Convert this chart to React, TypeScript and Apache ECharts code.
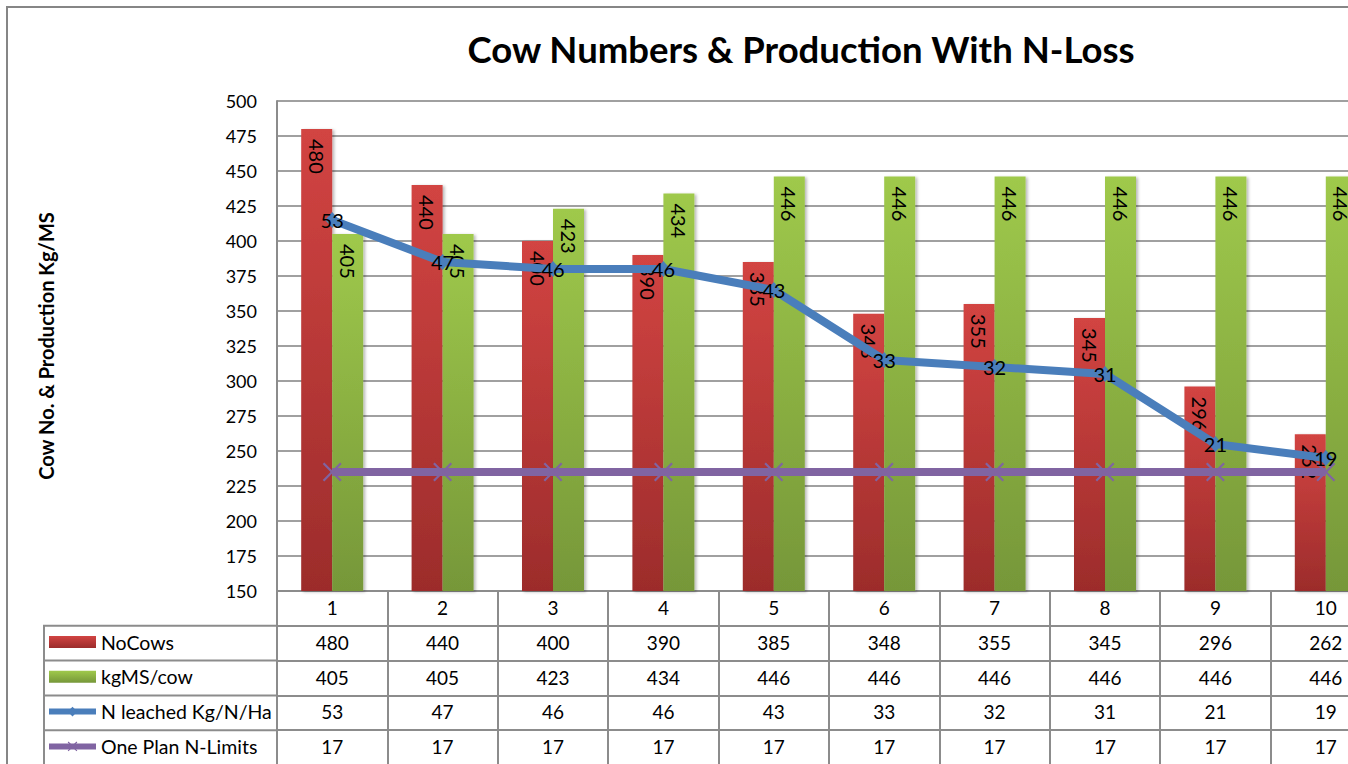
import React, { useEffect, useRef } from "react";
import * as echarts from "echarts";

// Category labels and the four series plotted / tabulated under the plot
const categories = ["1", "2", "3", "4", "5", "6", "7", "8", "9", "10"];
const noCows = [480, 440, 400, 390, 385, 348, 355, 345, 296, 262];
const kgMSPerCow = [405, 405, 423, 434, 446, 446, 446, 446, 446, 446];
const nLeached = [53, 47, 46, 46, 43, 33, 32, 31, 21, 19];
const onePlanLimit = [17, 17, 17, 17, 17, 17, 17, 17, 17, 17];

const seriesNames = ["NoCows", "kgMS/cow", "N leached Kg/N/Ha", "One Plan N-Limits"];
const tableRows = [noCows, kgMSPerCow, nLeached, onePlanLimit];

const titleText = "Cow Numbers & Production With N-Loss";
const yAxisTitle = "Cow No. & Production Kg/MS";

// Primary axis range (cows / kgMS), secondary axis range (kg N/ha)
const primaryMin = 150;
const primaryMax = 500;
const primaryStep = 25;
const secondaryMin = 0;
const secondaryMax = 70;

// Layout
const FONT = "Lato, 'Noto Sans', sans-serif";
const GRID_LEFT = 277;
const GRID_TOP = 101;
const PLOT_H = 490;
const BAND = 110.4;
const ROW_H = 34.8;
const TABLE_LEFT = 44;
const TABLE_FONT = 19;
const LEGEND_FONT = 19.5;
const LINE_GREY = "#8c8c8c";
const GRID_GREY = "#a0a0a0";

const redFill = new echarts.graphic.LinearGradient(0, 0, 0, 1, [
  { offset: 0, color: "#d24442" },
  { offset: 1, color: "#9c2c2b" },
]);
const greenFill = new echarts.graphic.LinearGradient(0, 0, 0, 1, [
  { offset: 0, color: "#9fc94b" },
  { offset: 1, color: "#769739" },
]);
const BLUE = "#4a7ebb";
const PURPLE = "#8064a2";
const CROSS =
  "path://M0,0.85 L0.85,0 L5,4.15 L9.15,0 L10,0.85 L5.85,5 L10,9.15 L9.15,10 L5,5.85 L0.85,10 L0,9.15 L4.15,5 Z";

const barShadow = {
  shadowColor: "rgba(0,0,0,0.28)",
  shadowBlur: 3,
  shadowOffsetX: 2,
  shadowOffsetY: 1,
};

const barLabel = {
  show: true,
  position: "insideTop",
  rotate: -90,
  align: "left",
  verticalAlign: "middle",
  distance: 10,
  fontSize: 20,
  fontFamily: FONT,
  color: "#000",
};

// One category axis per data-table row, stacked under the plot
const tableAxes = tableRows.map((row, i) => ({
  type: "category",
  gridIndex: 0,
  position: "bottom",
  offset: ROW_H * (i + 1),
  data: categories,
  axisLine: { show: true, onZero: false, lineStyle: { color: LINE_GREY, width: 2 } },
  axisTick: { show: true, interval: 0, length: ROW_H, lineStyle: { color: LINE_GREY, width: 2 } },
  axisLabel: {
    interval: 0,
    margin: 7,
    fontSize: TABLE_FONT,
    fontFamily: FONT,
    color: "#000",
    formatter: (_v: string, idx: number) => String(row[idx]),
  },
  splitLine: { show: false },
}));

const option = {
  animation: false,
  backgroundColor: "#fff",
  title: {
    text: titleText,
    left: "center",
    top: 25,
    textStyle: { fontSize: 36.5, fontWeight: "bold", fontFamily: FONT, color: "#000" },
  },
  legend: {
    orient: "vertical",
    left: TABLE_LEFT + 2,
    top: 632,
    padding: 0,
    itemWidth: 47,
    itemHeight: 12,
    itemGap: 14.8,
    selectedMode: false,
    lineStyle: { width: 6 },
    textStyle: { fontSize: LEGEND_FONT, fontFamily: FONT, color: "#000" },
    data: [
      { name: seriesNames[0], icon: "rect" },
      { name: seriesNames[1], icon: "rect" },
      seriesNames[2],
      seriesNames[3],
    ],
  },
  grid: { left: GRID_LEFT, top: GRID_TOP, width: BAND * categories.length, height: PLOT_H },
  xAxis: [
    {
      type: "category",
      position: "bottom",
      data: categories,
      axisLine: { show: true, onZero: false, lineStyle: { color: LINE_GREY, width: 2 } },
      axisTick: { show: true, interval: 0, length: ROW_H, lineStyle: { color: LINE_GREY, width: 2 } },
      axisLabel: { interval: 0, margin: 7, fontSize: TABLE_FONT, fontFamily: FONT, color: "#000" },
      splitLine: { show: false },
    },
    ...tableAxes,
  ],
  yAxis: [
    {
      type: "value",
      min: primaryMin,
      max: primaryMax,
      interval: primaryStep,
      name: yAxisTitle,
      nameLocation: "middle",
      nameRotate: 90,
      nameGap: 221,
      nameTextStyle: { fontSize: 20, fontWeight: "bold", fontFamily: FONT, color: "#000" },
      axisLine: { show: true, lineStyle: { color: LINE_GREY, width: 2 } },
      axisTick: { show: false },
      axisLabel: { margin: 20, fontSize: 18, fontFamily: FONT, color: "#000" },
      splitLine: { show: true, lineStyle: { color: GRID_GREY, width: 2 } },
    },
    {
      type: "value",
      min: secondaryMin,
      max: secondaryMax,
      show: false,
      splitLine: { show: false },
    },
  ],
  graphic: [
    {
      type: "rect",
      shape: { x: 7, y: 7, width: 3000, height: 3000 },
      style: { fill: "none", stroke: "#868686", lineWidth: 2 },
      silent: true,
    },
    {
      type: "rect",
      shape: { x: TABLE_LEFT, y: GRID_TOP + PLOT_H + ROW_H, width: GRID_LEFT - TABLE_LEFT, height: ROW_H * 6 },
      style: { fill: "none", stroke: LINE_GREY, lineWidth: 2 },
      silent: true,
    },
    ...[2, 3, 4].map((k) => ({
      type: "line",
      shape: {
        x1: TABLE_LEFT,
        y1: GRID_TOP + PLOT_H + ROW_H * k,
        x2: GRID_LEFT,
        y2: GRID_TOP + PLOT_H + ROW_H * k,
      },
      style: { stroke: LINE_GREY, lineWidth: 2 },
      silent: true,
    })),
  ],
  series: [
    {
      name: seriesNames[0],
      type: "bar",
      data: noCows,
      barWidth: 31,
      barGap: "0%",
      itemStyle: { color: redFill, ...barShadow },
      label: barLabel,
    },
    {
      name: seriesNames[1],
      type: "bar",
      data: kgMSPerCow,
      barWidth: 31,
      barGap: "0%",
      itemStyle: { color: greenFill, ...barShadow },
      label: barLabel,
    },
    {
      name: seriesNames[2],
      type: "line",
      yAxisIndex: 1,
      data: nLeached,
      symbol: "diamond",
      symbolSize: [14, 16],
      lineStyle: { color: BLUE, width: 8 },
      itemStyle: { color: BLUE },
      z: 4,
      label: {
        show: true,
        position: "inside",
        fontSize: 20,
        fontFamily: FONT,
        color: "#000",
      },
    },
    {
      name: seriesNames[3],
      type: "line",
      yAxisIndex: 1,
      data: onePlanLimit,
      symbol: CROSS,
      symbolSize: 19,
      lineStyle: { color: PURPLE, width: 8 },
      itemStyle: { color: PURPLE },
      z: 3,
    },
  ],
};

export default function App() {
  const ref = useRef<HTMLDivElement>(null);
  useEffect(() => {
    const chart = echarts.init(ref.current!, undefined, { renderer: "svg" });
    chart.setOption(option as any);
    return () => chart.dispose();
  }, []);
  return (
    <div
      style={{
        position: "fixed",
        left: 0,
        top: 0,
        width: 1348,
        height: 764,
        overflow: "hidden",
        background: "#fff",
      }}
    >
      <div ref={ref} style={{ width: 1602, height: 800 }} />
    </div>
  );
}
